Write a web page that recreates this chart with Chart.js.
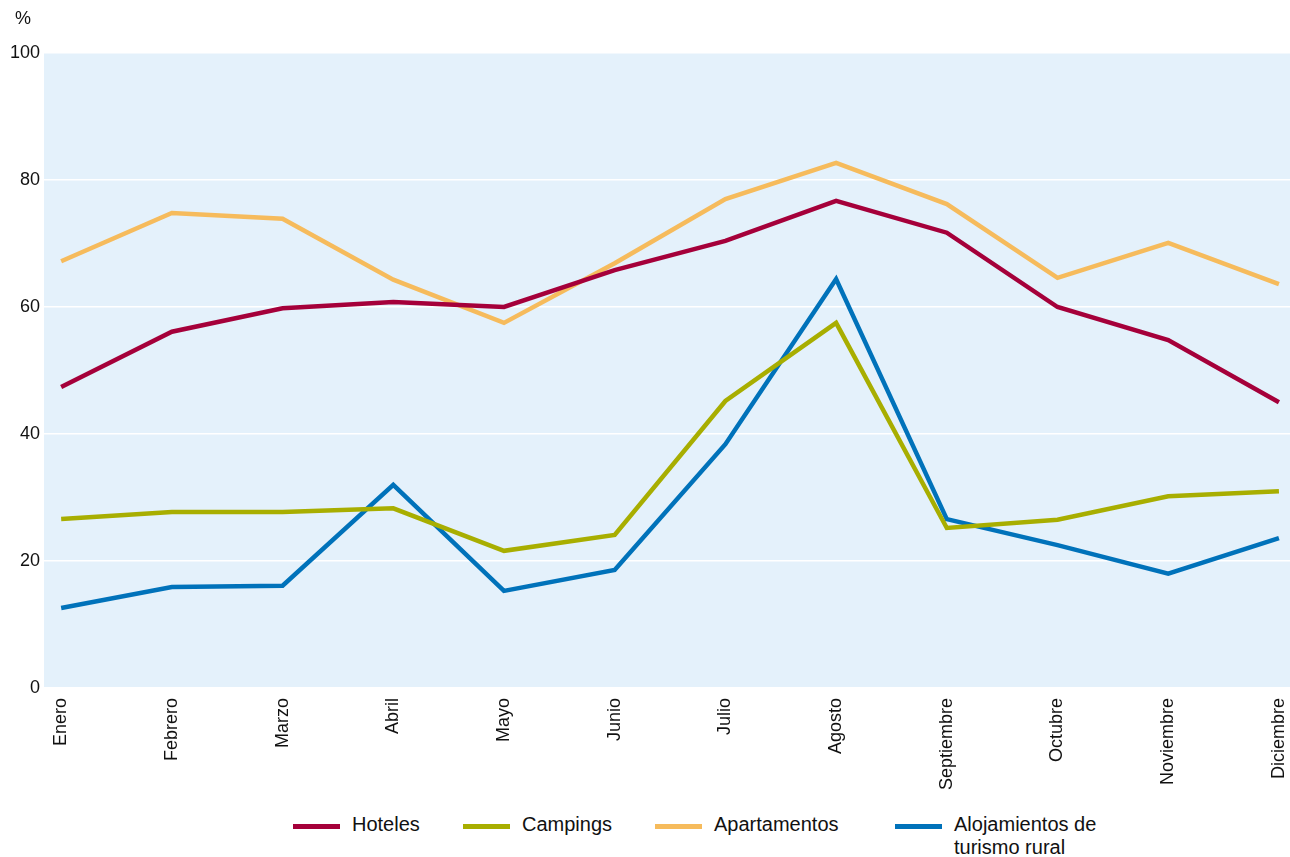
<!DOCTYPE html>
<html>
<head>
<meta charset="utf-8">
<script src="https://cdn.jsdelivr.net/npm/chart.js@4.4.0/dist/chart.umd.min.js"></script>
<style>
  html, body { margin: 0; padding: 0; background: #fff; }
  #wrap { position: relative; width: 1290px; height: 857px; }
  #chart { position: absolute; left: 0; top: 0; }
  .unit { position: absolute; left: 15px; top: 8px; font: 18px "Liberation Sans", Arial, sans-serif; color: #111; }
  .leg { position: absolute; font: 20px "Liberation Sans Narrow", "Arial Narrow", "Liberation Sans", sans-serif; color: #111; line-height: 23px; }
  .leg i { position: absolute; left: 0; top: 11px; width: 47px; height: 5px; }
  .leg span { position: absolute; left: 59px; top: 0; white-space: nowrap; }
</style>
</head>
<body>
<div id="wrap">
  <canvas id="chart" width="1290" height="800"></canvas>
  <div class="unit">%</div>
  <div id="legend"></div>
</div>
<script>
// months and occupancy (%) per accommodation type
const months = ['Enero','Febrero','Marzo','Abril','Mayo','Junio','Julio','Agosto','Septiembre','Octubre','Noviembre','Diciembre'];
const hoteles      = [47.4, 56.1, 59.8, 60.8, 60.0, 65.8, 70.4, 76.7, 71.7, 60.0, 54.8, 45.0];
const campings     = [26.6, 27.7, 27.7, 28.3, 21.6, 24.1, 45.2, 57.5, 25.2, 26.5, 30.2, 31.0];
const apartamentos = [67.2, 74.8, 73.9, 64.3, 57.5, 66.9, 77.0, 82.7, 76.2, 64.6, 70.1, 63.6];
const rural        = [12.6, 15.9, 16.1, 32.0, 15.3, 18.6, 38.4, 64.4, 26.6, 22.5, 18.0, 23.6];
const yTicks = [0, 20, 40, 60, 80, 100];

const series = [
  { label: 'Hoteles', data: hoteles, color: '#a5003a', lx: 293 },
  { label: 'Campings', data: campings, color: '#a8ae00', lx: 463 },
  { label: 'Apartamentos', data: apartamentos, color: '#f6bb5c', lx: 655 },
  { label: 'Alojamientos de<br>turismo rural', data: rural, color: '#0072ba', lx: 895 }
];

const bgPlugin = {
  id: 'plotBg',
  beforeDraw(chart) {
    const a = chart.chartArea, ctx = chart.ctx;
    ctx.save();
    ctx.fillStyle = '#e4f1fb';
    ctx.fillRect(a.left, a.top, a.right - a.left, a.bottom - a.top);
    ctx.restore();
  }
};

const tickFont = { family: '"Liberation Sans", Arial, sans-serif', size: 18 };

new Chart(document.getElementById('chart').getContext('2d'), {
  type: 'line',
  data: {
    datasets: series.map(s => ({
      label: s.label,
      data: s.data.map((v, i) => ({ x: i, y: v })),
      borderColor: s.color,
      borderWidth: 4.5,
      pointRadius: 0,
      tension: 0,
      fill: false
    }))
  },
  options: {
    responsive: false,
    animation: false,
    layout: { padding: { top: 53, right: 0, left: 0, bottom: 0 } },
    plugins: { legend: { display: false }, tooltip: { enabled: false } },
    scales: {
      x: {
        type: 'linear',
        min: -0.155,
        max: 11.1,
        afterBuildTicks: ax => { ax.ticks = months.map((m, i) => ({ value: i })); },
        afterFit: ax => { ax.height = 112; ax.paddingLeft = 0; ax.paddingRight = 0; },
        grid: { display: false, drawTicks: false },
        border: { display: false },
        ticks: {
          autoSkip: false,
          minRotation: 90,
          maxRotation: 90,
          padding: 10,
          color: '#111',
          font: tickFont,
          callback: v => months[v]
        }
      },
      y: {
        min: 0,
        max: 100,
        afterBuildTicks: ax => { ax.ticks = yTicks.map(v => ({ value: v })); },
        afterFit: ax => { ax.width = 44; },
        grid: { color: '#ffffff', lineWidth: 1.5, drawTicks: false },
        border: { display: false },
        ticks: { padding: 4, color: '#111', font: tickFont }
      }
    }
  },
  plugins: [bgPlugin]
});

// legend below the chart (last label wraps on two lines)
const leg = document.getElementById('legend');
series.forEach(s => {
  const d = document.createElement('div');
  d.className = 'leg';
  d.style.left = s.lx + 'px';
  d.style.top = '813px';
  d.innerHTML = `<i style="background:${s.color}"></i><span>${s.label}</span>`;
  leg.appendChild(d);
});
</script>
</body>
</html>
